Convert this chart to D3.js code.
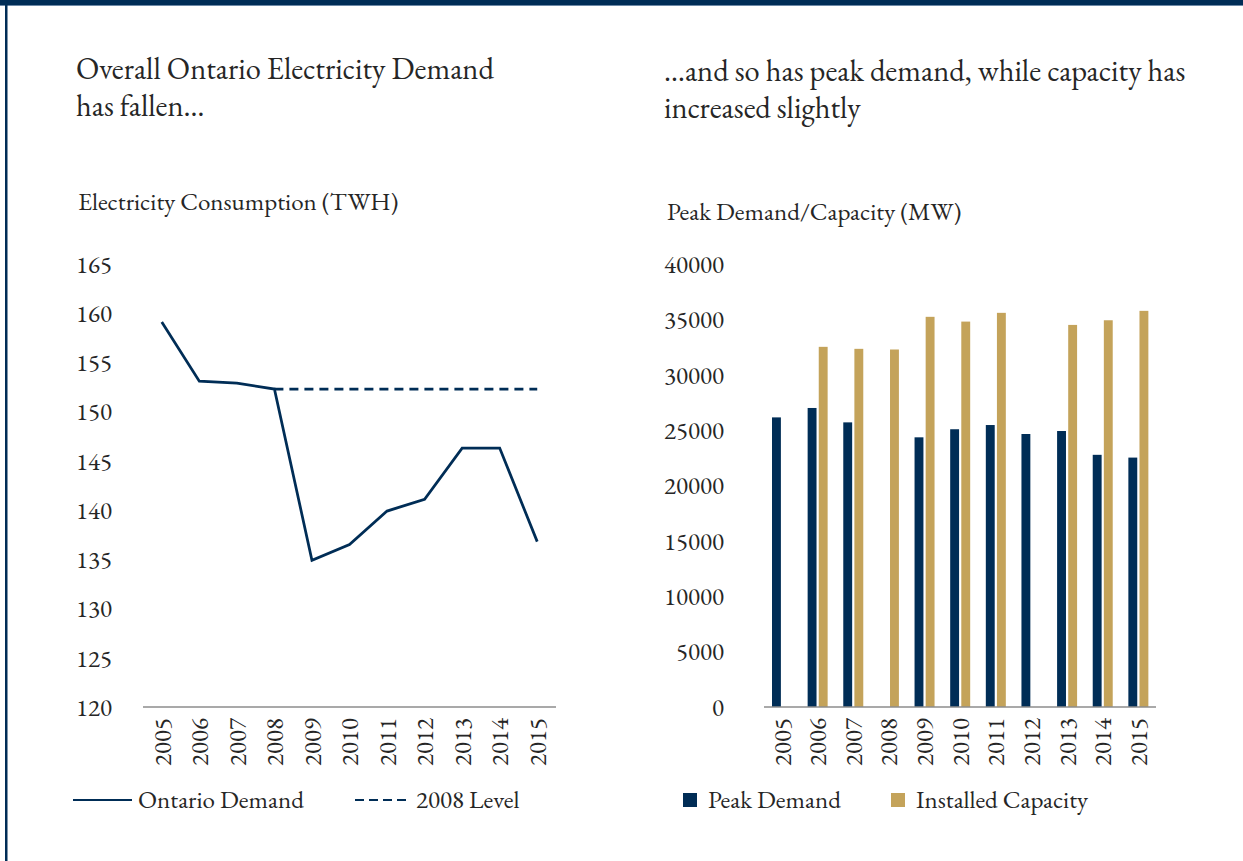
<!DOCTYPE html>
<html>
<head>
<meta charset="utf-8">
<script src="https://cdn.jsdelivr.net/npm/d3@7"></script>
<style>
  body { margin: 0; background: #fff; }
  svg { display: block; font-family: Garamond, "EB Garamond", "Liberation Serif", "DejaVu Serif", serif; }
  text { fill: #262626; }
</style>
</head>
<body>
<div id="chart"></div>
<script>
var years = ["2005", "2006", "2007", "2008", "2009", "2010", "2011", "2012", "2013", "2014", "2015"];
var ontarioDemand = [159.1, 153.1, 152.9, 152.3, 134.9, 136.5, 139.9, 141.1, 146.3, 146.3, 136.8];
var level2008 = 152.3;
var levelYears = ["2008", "2009", "2010", "2011", "2012", "2013", "2014", "2015"];
var peakDemand = [26150, 27000, 25700, null, 24350, 25080, 25460, 24650, 24920, 22770, 22520];
var installedCapacity = [null, 32520, 32340, 32280, 35230, 34800, 35590, null, 34500, 34920, 35770];
var lineTicks = [120, 125, 130, 135, 140, 145, 150, 155, 160, 165];
var barTicks = [0, 5000, 10000, 15000, 20000, 25000, 30000, 35000, 40000];

var navy = "#002d56", gold = "#c4a35a", axisGrey = "#8c8c8c";
var width = 1243, height = 861;
var fs = 25, titleFs = 30.5;

var svg = d3.select("#chart")
            .append("svg")
            .attr("width", width)
            .attr("height", height);

// frame: top band + left rule
svg.append("rect").attr("x", 0).attr("y", 0).attr("width", width).attr("height", 5).attr("fill", navy);
svg.append("rect").attr("x", 0).attr("y", 5).attr("width", width).attr("height", 1).attr("fill", "#6d89a6");
svg.append("rect").attr("x", 5).attr("y", 0).attr("width", 2.5).attr("height", height).attr("fill", navy);

// titles
function title(x, y, lines, gap) {
  lines.forEach(function (t, i) {
    svg.append("text")
       .attr("x", x)
       .attr("y", y + i * gap)
       .style("font-size", titleFs + "px")
       .text(t);
  });
}
title(76, 79, ["Overall Ontario Electricity Demand", "has fallen…"], 37);
title(664, 81, ["…and so has peak demand, while capacity has", "increased slightly"], 37);

svg.append("text").attr("x", 78).attr("y", 210).style("font-size", fs + "px").text("Electricity Consumption (TWH)");
svg.append("text").attr("x", 667).attr("y", 220).style("font-size", fs + "px").text("Peak Demand/Capacity (MW)");

// ---- left: line chart
var x1 = d3.scaleBand().domain(years).range([143, 556]);
var y1 = d3.scaleLinear().domain([120, 165]).range([707, 264]);

var g1 = svg.append("g");
lineTicks.forEach(function (t) {
  g1.append("text")
    .attr("x", 112)
    .attr("y", y1(t))
    .attr("dy", "0.35em")
    .attr("text-anchor", "end")
    .style("font-size", fs + "px")
    .text(t);
});
g1.append("line")
  .attr("x1", 143).attr("x2", 556)
  .attr("y1", y1(120)).attr("y2", y1(120))
  .attr("stroke", axisGrey).attr("stroke-width", 1.5);

years.forEach(function (yr) {
  g1.append("text")
    .attr("transform", "translate(" + (x1(yr) + x1.bandwidth() / 2) + "," + 718 + ") rotate(-90)")
    .attr("dy", "0.35em")
    .attr("text-anchor", "end")
    .style("font-size", fs + "px")
    .text(yr);
});

var cx = function (yr) { return x1(yr) + x1.bandwidth() / 2; };
var line = d3.line()
             .x(function (d) { return cx(d[0]); })
             .y(function (d) { return y1(d[1]); });

g1.append("path")
  .datum(years.map(function (yr, i) { return [yr, ontarioDemand[i]]; }))
  .attr("d", line)
  .attr("fill", "none")
  .attr("stroke", navy)
  .attr("stroke-width", 2.75);

g1.append("path")
  .datum(levelYears.map(function (yr) { return [yr, level2008]; }))
  .attr("d", line)
  .attr("fill", "none")
  .attr("stroke", navy)
  .attr("stroke-width", 2.75)
  .attr("stroke-dasharray", "9,6");

// legend left
svg.append("line").attr("x1", 73).attr("x2", 132).attr("y1", 800).attr("y2", 800)
   .attr("stroke", navy).attr("stroke-width", 2);
svg.append("text").attr("x", 138).attr("y", 808).style("font-size", fs + "px").text("Ontario Demand");
svg.append("line").attr("x1", 355).attr("x2", 411).attr("y1", 800).attr("y2", 800)
   .attr("stroke", navy).attr("stroke-width", 2).attr("stroke-dasharray", "9,5");
svg.append("text").attr("x", 416).attr("y", 808).style("font-size", fs + "px").text("2008 Level");

// ---- right: bar chart
var x2 = d3.scaleBand().domain(years).range([764, 1156]);
var y2 = d3.scaleLinear().domain([0, 40000]).range([707, 264]);
var series = ["peak", "capacity"];
var xs = d3.scaleBand().domain(series).range([8, 28]).paddingInner(0.2);

var g2 = svg.append("g");
barTicks.forEach(function (t) {
  g2.append("text")
    .attr("x", 724)
    .attr("y", y2(t))
    .attr("dy", "0.35em")
    .attr("text-anchor", "end")
    .style("font-size", fs + "px")
    .text(t);
});

var rows = years.map(function (yr, i) {
  return { year: yr, peak: peakDemand[i], capacity: installedCapacity[i] };
});

series.forEach(function (s) {
  g2.selectAll("rect." + s)
    .data(rows.filter(function (d) { return d[s] != null; }))
    .enter()
    .append("rect")
    .attr("class", s)
    .attr("x", function (d) { return x2(d.year) + xs(s); })
    .attr("width", xs.bandwidth())
    .attr("y", function (d) { return y2(d[s]); })
    .attr("height", function (d) { return y2(0) - y2(d[s]); })
    .attr("fill", s === "peak" ? navy : gold);
});

g2.append("line")
  .attr("x1", 764).attr("x2", 1156)
  .attr("y1", y2(0)).attr("y2", y2(0))
  .attr("stroke", axisGrey).attr("stroke-width", 1.5);

years.forEach(function (yr) {
  g2.append("text")
    .attr("transform", "translate(" + (x2(yr) + x2.bandwidth() / 2) + "," + 718 + ") rotate(-90)")
    .attr("dy", "0.35em")
    .attr("text-anchor", "end")
    .style("font-size", fs + "px")
    .text(yr);
});

// legend right
svg.append("rect").attr("x", 683).attr("y", 793).attr("width", 14).attr("height", 14).attr("fill", navy);
svg.append("text").attr("x", 708).attr("y", 808).style("font-size", fs + "px").text("Peak Demand");
svg.append("rect").attr("x", 891).attr("y", 793).attr("width", 14).attr("height", 14).attr("fill", gold);
svg.append("text").attr("x", 916).attr("y", 808).style("font-size", fs + "px").text("Installed Capacity");
</script>
</body>
</html>
